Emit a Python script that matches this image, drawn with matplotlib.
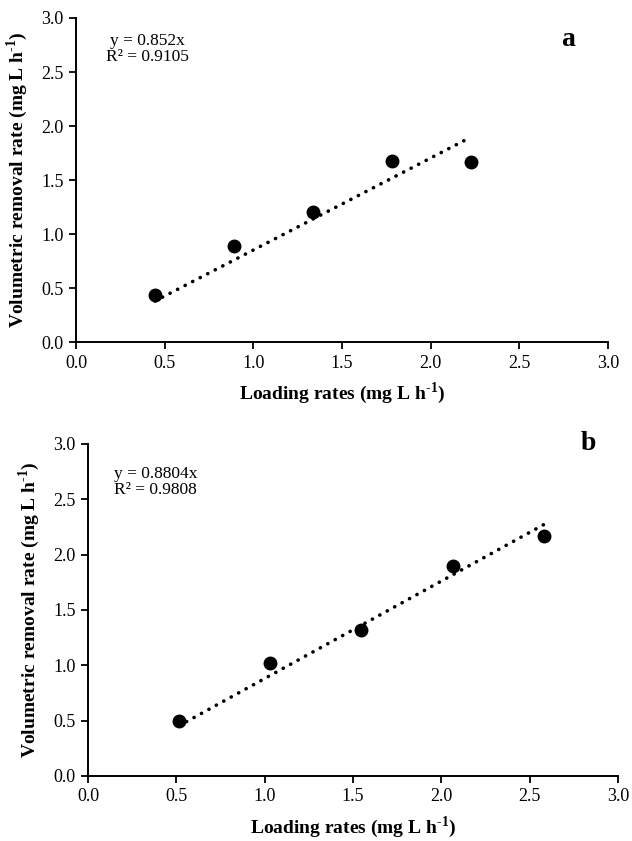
import numpy as np
import matplotlib
matplotlib.use('Agg')
import matplotlib.pyplot as plt

plt.rcParams['font.family'] = ['Liberation Serif', 'DejaVu Serif']
plt.rcParams['mathtext.fontset'] = 'custom'
plt.rcParams['mathtext.rm'] = 'Liberation Serif'
plt.rcParams['mathtext.bf'] = 'Liberation Serif:bold'

# panel a data
xa = [0.445, 0.89, 1.335, 1.78, 2.225]
ya = [0.44, 0.89, 1.20, 1.68, 1.67]
slope_a = 0.852
r2_a = 0.9105

# panel b data
xb = [0.516, 1.032, 1.548, 2.064, 2.58]
yb = [0.50, 1.02, 1.32, 1.90, 2.17]
slope_b = 0.8804
r2_b = 0.9808

ticks = [0.0, 0.5, 1.0, 1.5, 2.0, 2.5, 3.0]
unit = '(mg L h$^{\\mathbf{\u2010}\\mathbf{1}}$)'


def draw_panel(ax, x, y, slope, r2, letter, letter_pos, eq_pos):
    xs = np.array([min(x), max(x)])
    ax.plot(xs, slope * xs, color='black', linewidth=2.6,
            linestyle=(0, (0.05, 2.3)), dash_capstyle='round')
    ax.plot(x, y, 'o', color='black', markersize=9)
    ax.set_xlim(0, 3)
    ax.set_ylim(0, 3)
    ax.set_xticks(ticks)
    ax.set_yticks(ticks)
    ax.set_xticklabels([f'{t:.1f}' for t in ticks])
    ax.set_yticklabels([f'{t:.1f}' for t in ticks])
    for s in ['top', 'right']:
        ax.spines[s].set_visible(False)
    for s in ['left', 'bottom']:
        ax.spines[s].set_linewidth(1.4)
    ax.tick_params(direction='out', length=5, width=1.3, labelsize=13, pad=4)
    ax.set_xlabel('Loading rates ' + unit, fontsize=14,
                  fontweight='bold', labelpad=6)
    ax.set_ylabel('Volumetric removal rate ' + unit, fontsize=14,
                  fontweight='bold', labelpad=8)
    ax.text(eq_pos[0], eq_pos[1], f'y = {slope}x\nR² = {r2}',
            transform=ax.transAxes, fontsize=12.5, ha='center', va='top',
            linespacing=1.05)
    ax.text(letter_pos[0], letter_pos[1], letter, transform=ax.transAxes,
            fontsize=20, fontweight='bold', ha='center', va='center')


fig = plt.figure(figsize=(6.32, 8.41), dpi=100)

ax1 = fig.add_axes([0.1203, 0.5933, 0.8418, 0.3853])
draw_panel(ax1, xa, ya, slope_a, r2_a, 'a', (0.925, 0.935), (0.135, 0.955))

ax2 = fig.add_axes([0.1392, 0.0773, 0.8386, 0.3948])
draw_panel(ax2, xb, yb, slope_b, r2_b, 'b', (0.945, 1.0), (0.128, 0.935))

fig.savefig('out.png', dpi=100)
